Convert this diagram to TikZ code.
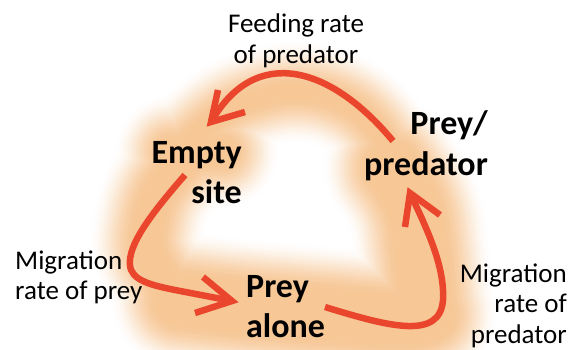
\documentclass[tikz,border=0pt]{standalone}
\usepackage{fontspec}
\setmainfont{Carlito}
\usetikzlibrary{calc}
\definecolor{arrowred}{RGB}{234,70,46}
\definecolor{glowcore}{RGB}{247,199,150}
\newcommand\smalltxt{\fontsize{27}{30.5}\selectfont}
\newcommand\bigtxt{\fontsize{34}{40}\selectfont\bfseries}
\begin{document}
\begin{tikzpicture}[x=1pt,y=-1pt,
  state/.style={inner sep=0pt, font=\bigtxt, text=black},
  rate/.style={inner sep=0pt, font=\smalltxt, text=black},
  link/.style={draw=arrowred, line width=6.5pt},
  head/.style={draw=arrowred, line width=6.5pt, miter limit=10},
  glowline/.style={line cap=round, line join=round}]
\useasboundingbox (0,0) rectangle (575,350);
% soft orange glow (levels from faint and wide to strong and narrow)
\foreach \i in {0,...,24} {
  \pgfmathsetmacro\t{\i/24}
  \pgfmathtruncatemacro\pc{100*(3*\t*\t-2*\t*\t*\t)}
  \pgfmathsetmacro\ff{48*(1-\t)}
  \pgfmathsetmacro\wtop{2*(6+\ff)}
  \pgfmathsetmacro\wleft{2*(12+\ff)}
  \pgfmathsetmacro\wcorner{2*(12+\ff)}
  \pgfmathsetmacro\wright{2*(24+\ff)}
  \pgfmathsetmacro\wbottom{2*(24+\ff)}
  \colorlet{gl}{glowcore!\pc!white}
  \draw[gl, glowline, line width=\wtop pt]
    plot[smooth, tension=0.7] coordinates {(190,140) (225,112) (262,97) (300,92) (340,101) (372,124) (395,158)};
  \draw[gl, glowline, line width=\wcorner pt] (172,152) -- (222,152);
  \draw[gl, glowline, line width=\wleft pt]
    plot[smooth, tension=0.7] coordinates {(185,160) (160,190) (149,225) (150,255) (172,290)};
  \draw[gl, glowline, line width=\wbottom pt]
    plot[smooth, tension=0.7] coordinates {(180,300) (240,307) (320,314) (400,320) (428,314)};
  \draw[gl, glowline, line width=\wright pt]
    plot[smooth, tension=0.7] coordinates {(392,168) (413,205) (421,250) (425,305)};
}
% states
\node[state, anchor=base east] (empty) at (242,163) {\begin{tabular}[t]{@{}r@{}}Empty\\site\end{tabular}};
\node[state, anchor=base east] (pp) at (488,135) {\begin{tabular}[t]{@{}r@{}}Prey/\\predator\end{tabular}};
\node[state, anchor=base west] (alone) at (246,297) {\begin{tabular}[t]{@{}l@{}}Prey\\alone\end{tabular}};
% rates
\node[rate, anchor=base] (feed) at (296,33) {\begin{tabular}[t]{@{}c@{}}Feeding rate\\of predator\end{tabular}};
\node[rate, anchor=base west] (mprey) at (15,269) {\begin{tabular}[t]{@{}l@{}}Migration\\rate of prey\end{tabular}};
\node[rate, anchor=base east] (mpred) at (567,282) {\begin{tabular}[t]{@{}r@{}}Migration\\rate of\\predator\end{tabular}};
% connector ends
\coordinate (s1) at (393,141);
\coordinate (t1) at (211,122);
\coordinate (a1) at (218,90);
\coordinate (b1) at (245,112);
\coordinate (s2) at (185,175);
\coordinate (t2) at (232,301);
\coordinate (a2) at (203,277);
\coordinate (b2) at (195,313);
\coordinate (s3) at (325,307);
\coordinate (t3) at (410,193);
\coordinate (a3) at (405,227);
\coordinate (b3) at (440,215);
% feeding: prey/predator -> empty
\draw[link] (s1) .. controls (330,65) and (255,45) .. (t1);
\draw[head] (a1) -- (t1) -- (b1);
% migration of prey: empty -> prey alone
\draw[link] (s2) .. controls (150,215) and (128,245) .. (130,265)
  .. controls (131,280) and (150,285) .. (175,290) -- (t2);
\draw[head] (a2) -- (t2) -- (b2);
% migration of predator: prey alone -> prey/predator
\draw[link] (s3) .. controls (390,327) and (440,340) .. (443,300)
  .. controls (445,265) and (425,225) .. (t3);
\draw[head] (a3) -- (t3) -- (b3);
\end{tikzpicture}
\end{document}
